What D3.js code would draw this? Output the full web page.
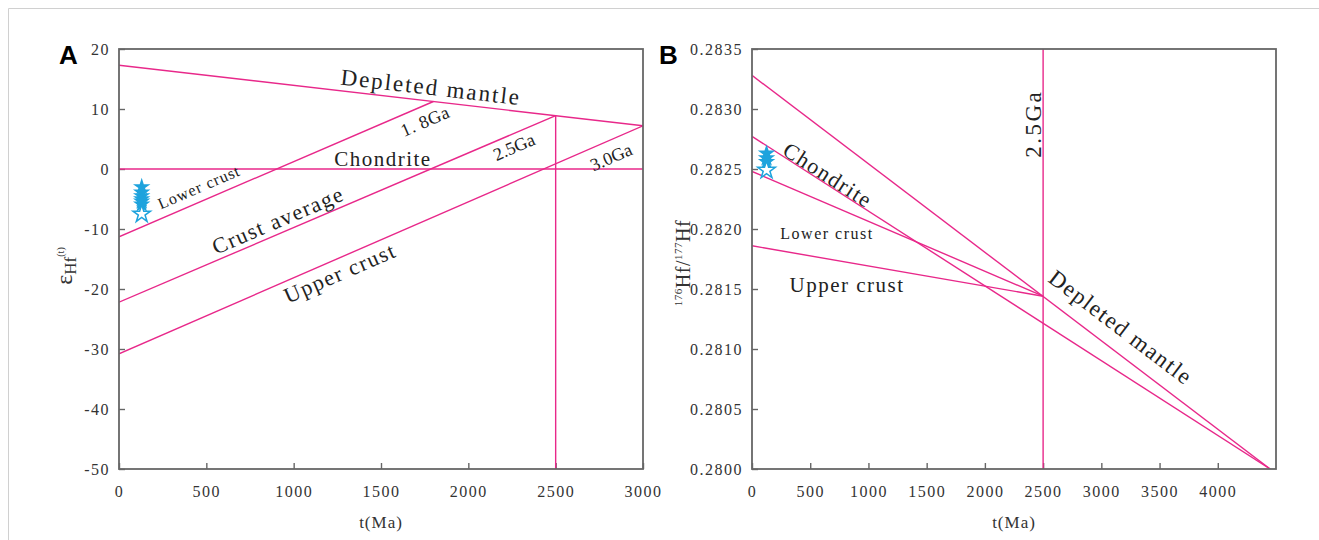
<!DOCTYPE html>
<html>
<head>
<meta charset="utf-8">
<script src="https://cdn.jsdelivr.net/npm/d3@7"></script>
<style>
  body { margin: 0; background: #fff; }
  svg { display: block; }
  text { font-family: "Liberation Serif", "Times New Roman", serif; }
</style>
</head>
<body>
<svg id="chart" width="1319" height="540"></svg>
<script>
// ---- panel A: eHf(t) vs t(Ma) ----
const ticksA_x = [0, 500, 1000, 1500, 2000, 2500, 3000];
const ticksA_y = [-50, -40, -30, -20, -10, 0, 10, 20];
const depletedMantleA = [[0, 17.3], [3000, 7.2]];
const chondriteA = [[0, 0], [3000, 0]];
const lowerCrustA = [[0, -11.3], [1800, 11.25]];
const crustAverageA = [[0, -22.2], [2500, 8.9]];
const upperCrustA = [[0, -30.8], [3000, 7.2]];
const line25A = [[2500, 8.9], [2500, -50]];
const samplesA_age = 130;
const samplesA_filled = [-3.0, -3.9, -4.5, -5.0, -5.4, -5.9];
const samplesA_open = [-7.5];

// ---- panel B: 176Hf/177Hf vs t(Ma) ----
const ticksB_x = [0, 500, 1000, 1500, 2000, 2500, 3000, 3500, 4000];
const ticksB_y = [0.2800, 0.2805, 0.2810, 0.2815, 0.2820, 0.2825, 0.2830, 0.2835];
const depletedMantleB = [[0, 0.28328], [4450, 0.2800]];
const chondriteB = [[0, 0.282772], [4450, 0.2800]];
const lowerCrustB = [[0, 0.28248], [2500, 0.28144]];
const upperCrustB = [[0, 0.28186], [2500, 0.28144]];
const line25B = [[2500, 0.2835], [2500, 0.2800]];
const samplesB_age = 125;
const samplesB_filled = [0.28263, 0.28259, 0.28256];
const samplesB_open = [0.28249];

const PINK = '#e8288a';
const BLUE = '#1ea3dd';
const AXIS = '#666';
const SERIF = '"Liberation Serif", "Times New Roman", serif';

const svg = d3.select('#chart');

// faint frame around the figure
svg.append('path')
    .attr('d', 'M8.5,540 V8.5 H1319')
    .attr('fill', 'none')
    .attr('stroke', '#d0d0d0')
    .attr('stroke-width', 1);

function angleOf(line, x, y) {
    return Math.atan2(y(line[1][1]) - y(line[0][1]), x(line[1][0]) - x(line[0][0])) * 180 / Math.PI;
}

function drawPanel(p) {
    const { x, y, id } = p;
    const g = svg.append('g');
    const [x0, x1] = x.range();
    const [y0, y1] = y.range();

    g.append('clipPath').attr('id', 'clip' + id)
        .append('rect')
        .attr('x', x0).attr('y', y1)
        .attr('width', x1 - x0).attr('height', y0 - y1);

    // axes, ticks pointing inward
    const ax = g.append('g')
        .attr('transform', 'translate(0,' + y0 + ')')
        .call(d3.axisBottom(x).tickValues(p.ticksX).tickSizeInner(-6).tickSizeOuter(0).tickPadding(17)
            .tickFormat(d => String(d)));
    const ay = g.append('g')
        .attr('transform', 'translate(' + x0 + ',0)')
        .call(d3.axisLeft(y).tickValues(p.ticksY).tickSizeInner(-6).tickSizeOuter(0).tickPadding(9)
            .tickFormat(p.formatY));
    [ax, ay].forEach(a => {
        a.attr('font-family', SERIF).attr('font-size', 16);
        a.select('.domain').remove();
        a.selectAll('line').attr('stroke', AXIS).attr('stroke-width', 1.4);
        a.selectAll('text')
            .attr('fill', '#333')
            .attr('font-family', SERIF)
            .style('letter-spacing', '1.5px');
    });

    // reference lines
    const lg = g.append('g').attr('clip-path', 'url(#clip' + id + ')');
    const line = d3.line().x(d => x(d[0])).y(d => y(d[1]));
    p.lines.forEach(l => {
        lg.append('path')
            .attr('d', line(l))
            .attr('fill', 'none')
            .attr('stroke', PINK)
            .attr('stroke-width', 1.4);
    });

    // frame
    g.append('rect')
        .attr('x', x0).attr('y', y1)
        .attr('width', x1 - x0).attr('height', y0 - y1)
        .attr('fill', 'none')
        .attr('stroke', AXIS)
        .attr('stroke-width', 1.8);

    // samples
    const star = d3.symbol().type(d3.symbolStar).size(95);
    g.selectAll('.filled')
        .data(p.filled)
        .enter().append('path')
        .attr('d', star)
        .attr('transform', d => 'translate(' + x(p.age) + ',' + y(d) + ')')
        .attr('fill', BLUE);
    g.selectAll('.open')
        .data(p.open)
        .enter().append('path')
        .attr('d', star)
        .attr('transform', d => 'translate(' + x(p.age) + ',' + y(d) + ')')
        .attr('fill', '#fff')
        .attr('stroke', BLUE)
        .attr('stroke-width', 1.5);

    // curve labels
    p.labels.forEach(l => {
        g.append('text')
            .attr('transform', 'translate(' + x(l.at[0]) + ',' + y(l.at[1]) + ')rotate(' + l.rot + ')')
            .attr('text-anchor', 'middle')
            .attr('dy', '0.35em')
            .attr('fill', '#222')
            .style('font-size', l.size + 'px')
            .style('letter-spacing', (l.ls == null ? 1.5 : l.ls) + 'px')
            .text(l.text);
    });

    // x title
    g.append('text')
        .attr('x', (x0 + x1) / 2)
        .attr('y', 528)
        .attr('text-anchor', 'middle')
        .attr('fill', '#333')
        .style('font-size', '17px')
        .style('letter-spacing', '1px')
        .text('t(Ma)');

    // panel letter
    g.append('text')
        .attr('x', p.letterX)
        .attr('y', 64)
        .attr('fill', '#000')
        .style('font-family', '"Liberation Sans", Arial, sans-serif')
        .style('font-weight', 'bold')
        .style('font-size', '26px')
        .text(id);

    return g;
}

// panel A
const xA = d3.scaleLinear().domain([0, 3000]).range([119, 643]);
const yA = d3.scaleLinear().domain([-50, 20]).range([469, 49]);
const gA = drawPanel({
    id: 'A', x: xA, y: yA, letterX: 59,
    ticksX: ticksA_x, ticksY: ticksA_y, formatY: d => String(d),
    lines: [depletedMantleA, chondriteA, lowerCrustA, crustAverageA, upperCrustA, line25A],
    age: samplesA_age, filled: samplesA_filled, open: samplesA_open,
    labels: [
        { text: 'Depleted mantle', at: [1786, 13.7], rot: angleOf(depletedMantleA, xA, yA), size: 23, ls: 2 },
        { text: '1. 8Ga', at: [1752, 8.0], rot: angleOf(lowerCrustA, xA, yA), size: 18, ls: 0.5 },
        { text: 'Chondrite', at: [1511, 1.7], rot: 0, size: 21, ls: 1.5 },
        { text: '2.5Ga', at: [2261, 3.7], rot: angleOf(crustAverageA, xA, yA), size: 18, ls: 0 },
        { text: '3.0Ga', at: [2817, 2.0], rot: angleOf(upperCrustA, xA, yA), size: 18, ls: 0 },
        { text: 'Lower crust', at: [458, -3.0], rot: angleOf(lowerCrustA, xA, yA), size: 16, ls: 1 },
        { text: 'Crust average', at: [910, -8.5], rot: angleOf(crustAverageA, xA, yA), size: 22, ls: 1.5 },
        { text: 'Upper crust', at: [1265, -17.3], rot: angleOf(upperCrustA, xA, yA), size: 22, ls: 1.5 }
    ]
});

// y title A: eHf(t)
const tA = gA.append('text')
    .attr('transform', 'translate(72,266)rotate(-90)')
    .attr('text-anchor', 'middle')
    .attr('fill', '#333');
tA.append('tspan').style('font-size', '24px').text('ε');
tA.append('tspan').style('font-size', '17px').attr('dy', 4).text('Hf');
tA.append('tspan').style('font-size', '10px').attr('dy', -12).text('(t)');

// panel B
const xB = d3.scaleLinear().domain([0, 4500]).range([752, 1276]);
const yB = d3.scaleLinear().domain([0.2800, 0.2835]).range([469, 49]);
const gB = drawPanel({
    id: 'B', x: xB, y: yB, letterX: 659,
    ticksX: ticksB_x, ticksY: ticksB_y, formatY: d3.format('.4f'),
    lines: [depletedMantleB, chondriteB, lowerCrustB, upperCrustB, line25B],
    age: samplesB_age, filled: samplesB_filled, open: samplesB_open,
    labels: [
        { text: 'Chondrite', at: [653, 0.28245], rot: angleOf(chondriteB, xB, yB), size: 22, ls: 1.5 },
        { text: '2.5Ga', at: [2415, 0.282877], rot: -90, size: 23, ls: 2.5 },
        { text: 'Lower crust', at: [644, 0.281967], rot: 0, size: 16, ls: 1.5 },
        { text: 'Upper crust', at: [816, 0.281533], rot: 0, size: 21, ls: 1.5 },
        { text: 'Depleted mantle', at: [3169, 0.281183], rot: angleOf(depletedMantleB, xB, yB), size: 23, ls: 1.5 }
    ]
});

// y title B: 176Hf/177Hf
const tB = gB.append('text')
    .attr('transform', 'translate(690,263)rotate(-90)')
    .attr('text-anchor', 'middle')
    .attr('fill', '#333')
    .style('letter-spacing', '0.5px');
tB.append('tspan').style('font-size', '11px').attr('dy', -8).text('176');
tB.append('tspan').style('font-size', '20px').attr('dy', 8).text('Hf/');
tB.append('tspan').style('font-size', '11px').attr('dy', -8).text('177');
tB.append('tspan').style('font-size', '20px').attr('dy', 8).text('Hf');
</script>
</body>
</html>
